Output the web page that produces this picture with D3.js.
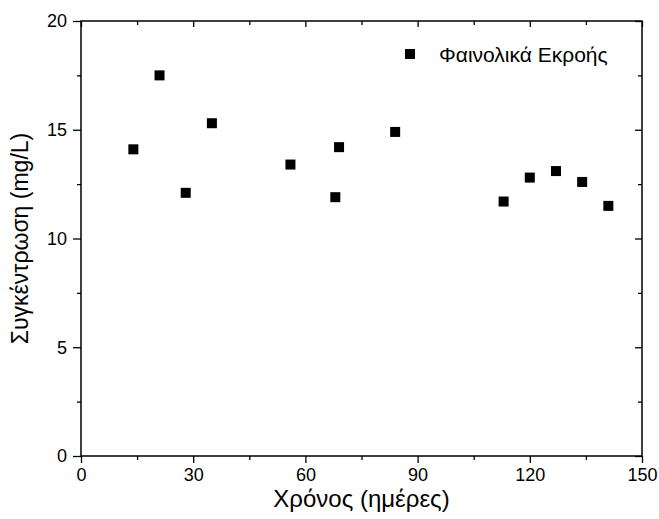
<!DOCTYPE html>
<html><head><meta charset="utf-8">
<script src="https://cdn.jsdelivr.net/npm/d3@7"></script>
<style>body{margin:0;background:#fff}svg{display:block}text{font-family:"Liberation Sans",Arial,sans-serif;fill:#000}</style>
</head><body>
<script>
const days = [14, 21, 28, 35, 56, 68, 69, 84, 113, 120, 127, 134, 141];
const conc = [14.1, 17.5, 12.1, 15.3, 13.4, 11.9, 14.2, 14.9, 11.7, 12.8, 13.1, 12.6, 11.5];
const xTicks = [0, 30, 60, 90, 120, 150];
const yTicks = [0, 5, 10, 15, 20];
const seriesName = "Φαινολικά Εκροής";
const xTitle = "Χρόνος (ημέρες)";
const yTitle = "Συγκέντρωση (mg/L)";

const W = 659, H = 519;
const L = 81, R = 642, T = 21, B = 456;
const svg = d3.select("body").append("svg").attr("width", W).attr("height", H);
const x = d3.scaleLinear().domain([0, 150]).range([L, R]);
const y = d3.scaleLinear().domain([0, 20]).range([B, T]);
const xMinor = d3.range(15, 150, 30);
const yMinor = d3.range(2.5, 20, 5);

function styleAxis(g) {
  g.select(".domain").remove();
  g.selectAll("line").attr("stroke", "#000").attr("stroke-width", 1.3);
  g.selectAll("text").style("font-size", "18px").style("font-family", '"Liberation Sans", Arial, sans-serif');
}
// bottom
svg.append("g").attr("transform", `translate(0,${B})`)
  .call(d3.axisBottom(x).tickValues(xTicks).tickSize(7).tickPadding(5)).call(styleAxis);
svg.append("g").attr("transform", `translate(0,${B})`)
  .call(d3.axisBottom(x).tickValues(xMinor).tickSize(4).tickFormat("")).call(styleAxis);
// left
svg.append("g").attr("transform", `translate(${L},0)`)
  .call(d3.axisLeft(y).tickValues(yTicks).tickSize(8).tickPadding(6)).call(styleAxis);
svg.append("g").attr("transform", `translate(${L},0)`)
  .call(d3.axisLeft(y).tickValues(yMinor).tickSize(4).tickFormat("")).call(styleAxis);
// top (inward)
svg.append("g").attr("transform", `translate(0,${T})`)
  .call(d3.axisBottom(x).tickValues(xTicks).tickSize(6).tickFormat("")).call(styleAxis);
svg.append("g").attr("transform", `translate(0,${T})`)
  .call(d3.axisBottom(x).tickValues(xMinor).tickSize(4).tickFormat("")).call(styleAxis);
// right (inward)
svg.append("g").attr("transform", `translate(${R},0)`)
  .call(d3.axisLeft(y).tickValues(yTicks).tickSize(7).tickFormat("")).call(styleAxis);
svg.append("g").attr("transform", `translate(${R},0)`)
  .call(d3.axisLeft(y).tickValues(yMinor).tickSize(4).tickFormat("")).call(styleAxis);

// frame
svg.append("rect").attr("x", L).attr("y", T).attr("width", R - L).attr("height", B - T)
  .attr("fill", "none").attr("stroke", "#000").attr("stroke-width", 1.5);

// points
const S = 10;
svg.append("g").selectAll("rect").data(days.map((d, i) => [d, conc[i]])).join("rect")
  .attr("x", d => x(d[0]) - S / 2).attr("y", d => y(d[1]) - S / 2)
  .attr("width", S).attr("height", S).attr("fill", "#000");

// legend
svg.append("rect").attr("x", 405).attr("y", 49).attr("width", S).attr("height", S).attr("fill", "#000");
svg.append("text").attr("x", 439).attr("y", 62).style("font-size", "21px").text(seriesName);

// titles
svg.append("text").attr("x", (L + R) / 2).attr("y", 507).attr("text-anchor", "middle")
  .style("font-size", "24px").text(xTitle);
svg.append("text").attr("transform", `translate(28,${(T + B) / 2}) rotate(-90)`)
  .attr("text-anchor", "middle").style("font-size", "23px").text(yTitle);
</script>
</body></html>
